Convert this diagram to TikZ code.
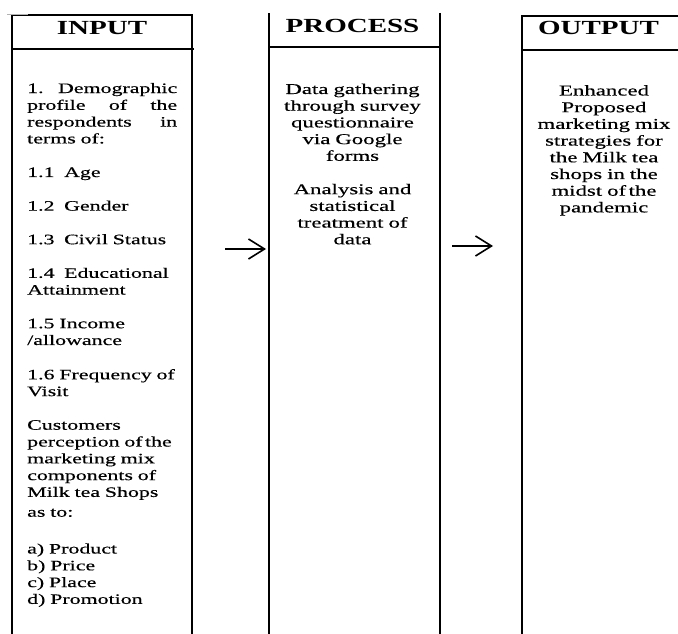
\documentclass[tikz,border=0pt]{standalone}
\usepackage{fontspec}
\setmainfont[FakeStretch=1.52, FakeBold=0.4]{Liberation Serif}
\newfontfamily\headfont[FakeStretch=1.45]{Liberation Serif}
\usetikzlibrary{arrows.meta}

\tikzset{
  frame/.style={line width=1.2pt},
  colhead/.style={font=\headfont\bfseries\fontsize{20}{24}\selectfont,
                  inner sep=0pt, anchor=base},
  colbody/.style={font=\fontsize{15}{16.7}\selectfont, inner sep=0pt},
  flow/.style={-{Straight Barb[length=16pt, width=20pt]}, line width=1.6pt},
}

\begin{document}
\begin{tikzpicture}[x=1pt, y=-1pt]
  \useasboundingbox (0,0) rectangle (678,634);

  % Column frames, open at the bottom
  \draw[frame] (12,634) -- (12,15) -- (192,15) -- (192,634);
  \draw[frame] (12,49) -- (194,49);
  \draw[frame] (269,634) -- (269,13);
  \draw[frame] (440,13) -- (440,634);
  \draw[frame] (269,47) -- (440,47);
  \draw[frame] (678,16) -- (522,16) -- (522,634);
  \draw[frame] (522,50) -- (678,50);
  \draw[gray!60, line width=0.6pt] (7,14) -- (28,14);

  % Headings
  \node[colhead] (inhead) at (102,34.3) {INPUT};
  \node[colhead] (prochead) at (352.5,32.3) {PROCESS};
  \node[colhead] (outhead) at (598.5,35) {OUTPUT};

  % Input
  \node[colbody, font=\fontsize{14.4}{16.8}\selectfont, anchor=base west,
        text width=150pt, align=left] (intext) at (27,93) {%
    1.\hfill Demographic\\
    profile\hfill of\hfill the\\
    respondents\hfill in\\
    terms of:\\[16.8pt]
    1.1~~Age\\[16.8pt]
    1.2~~Gender\\[16.8pt]
    1.3~~Civil Status\\[16.8pt]
    1.4~~Educational\\
    Attainment\\[16.8pt]
    1.5 Income\\
    /allowance\\[17.5pt]
    1.6 Frequency of\\
    Visit\\[16.8pt]
    Customers\\
    perception of\,the\\
    marketing mix\\
    components of\\
    Milk tea Shops\\[3pt]
    as to:\\[20pt]
    a) Product\\
    b) Price\\
    c) Place\\
    d) Promotion};

  % Process
  \node[colbody, anchor=base, text width=165pt, align=center] (proctext)
        at (352.5,94) {%
    Data gathering\\
    through survey\\
    questionnaire\\
    via Google\\
    forms\\[16.7pt]
    Analysis and\\
    statistical\\
    treatment of\\
    data};

  % Output
  \node[colbody, anchor=base, text width=150pt, align=center] (outtext)
        at (604,95.5) {%
    Enhanced\\
    Proposed\\
    marketing mix\\
    strategies for\\
    the Milk tea\\
    shops in the\\
    midst of\,the\\
    pandemic};

  % Arrows between the columns
  \coordinate (flowa) at (225,249);
  \coordinate (flowb) at (266,249);
  \coordinate (flowc) at (452,246);
  \coordinate (flowd) at (493,246);
  \draw[flow] (flowa) -- (flowb);
  \draw[flow] (flowc) -- (flowd);
\end{tikzpicture}
\end{document}
